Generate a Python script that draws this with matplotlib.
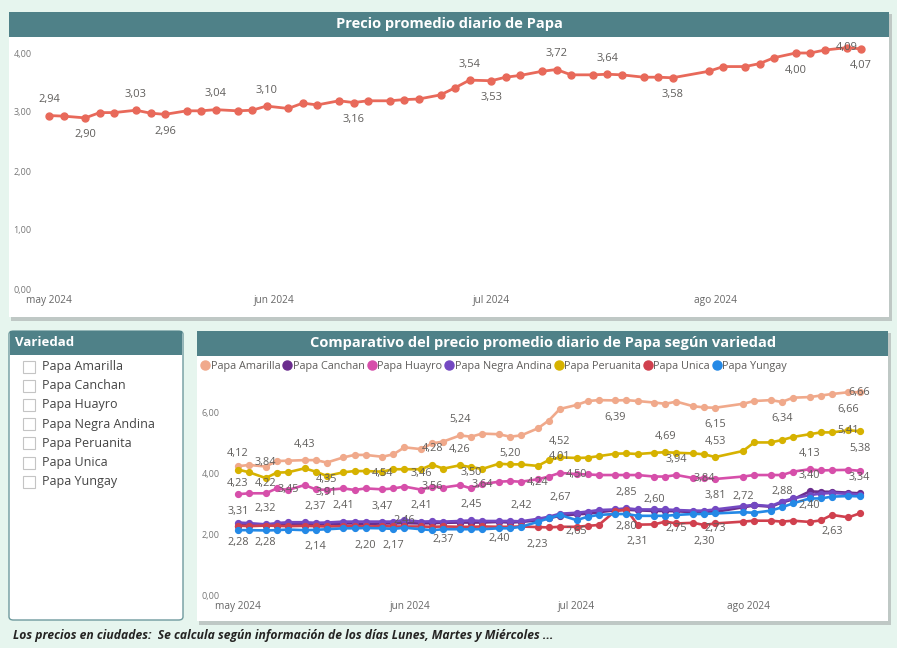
import datetime as dt
import matplotlib
matplotlib.use('Agg')
import matplotlib.pyplot as plt
import matplotlib.dates as mdates
from matplotlib.patches import Rectangle, FancyBboxPatch
from matplotlib.lines import Line2D

plt.rcParams['font.family'] = ['Open Sans', 'DejaVu Sans']

W, H = 897, 648

# fechas con precio (lun, mie, vie)
dias_may = [1, 3, 6, 8, 10, 13, 15, 17, 20, 22, 24, 27, 29, 31]
dias_jun = [3, 5, 7, 10, 12, 14, 17, 19, 21, 24, 26, 28]
dias_jul = [1, 3, 5, 8, 10, 12, 15, 17, 19, 22, 24, 26, 31]
dias_ago = [2, 5, 7, 9, 12, 14, 16, 19, 21]
fechas = ([dt.date(2024, 5, d) for d in dias_may] + [dt.date(2024, 6, d) for d in dias_jun]
          + [dt.date(2024, 7, d) for d in dias_jul] + [dt.date(2024, 8, d) for d in dias_ago])

meses = [dt.date(2024, 5, 1), dt.date(2024, 6, 1), dt.date(2024, 7, 1), dt.date(2024, 8, 1)]
meses_txt = ['may 2024', 'jun 2024', 'jul 2024', 'ago 2024']

# precio promedio diario de papa
papa = [2.94, 2.93, 2.90, 2.99, 2.99, 3.03, 2.98, 2.96, 3.02, 3.02, 3.04, 3.02, 3.03, 3.10,
        3.06, 3.15, 3.12, 3.19, 3.16, 3.19, 3.19, 3.21, 3.22, 3.29, 3.41, 3.54,
        3.53, 3.59, 3.62, 3.69, 3.72, 3.63, 3.63, 3.64, 3.63, 3.59, 3.59, 3.58, 3.69,
        3.77, 3.77, 3.82, 3.92, 4.00, 4.00, 4.05, 4.09, 4.07]

# por variedad
amarilla = [4.23, 4.27, 4.22, 4.40, 4.41, 4.43, 4.43, 4.35, 4.52, 4.60, 4.60, 4.54, 4.62, 4.85,
            4.79, 4.98, 5.04, 5.24, 5.20, 5.30, 5.28, 5.20, 5.24, 5.47, 5.73, 6.11,
            6.24, 6.37, 6.40, 6.39, 6.40, 6.37, 6.32, 6.28, 6.35, 6.20, 6.16, 6.15, 6.28,
            6.37, 6.40, 6.34, 6.48, 6.50, 6.55, 6.60, 6.66, 6.66]
canchan = [2.28, 2.30, 2.29, 2.30, 2.32, 2.33, 2.32, 2.32, 2.35, 2.35, 2.33, 2.35, 2.35, 2.36,
           2.35, 2.36, 2.37, 2.38, 2.38, 2.38, 2.40, 2.38, 2.40, 2.45, 2.52, 2.60,
           2.65, 2.67, 2.72, 2.78, 2.80, 2.78, 2.76, 2.76, 2.75, 2.72, 2.72, 2.73, 2.88,
           2.94, 2.90, 3.04, 3.14, 3.40, 3.39, 3.39, 3.36, 3.34]
huayro = [3.31, 3.34, 3.34, 3.50, 3.45, 3.61, 3.47, 3.45, 3.50, 3.45, 3.50, 3.47, 3.50, 3.56,
          3.46, 3.56, 3.53, 3.61, 3.50, 3.64, 3.72, 3.74, 3.72, 3.80, 3.89, 4.01,
          3.97, 3.96, 3.94, 3.94, 3.94, 3.94, 3.89, 3.89, 3.94, 3.84, 3.84, 3.81, 3.89,
          3.94, 3.94, 3.94, 4.05, 4.13, 4.09, 4.10, 4.11, 4.08]
negra_andina = [2.38, 2.36, 2.32, 2.36, 2.39, 2.39, 2.37, 2.38, 2.41, 2.41, 2.41, 2.41, 2.41, 2.46,
                2.41, 2.42, 2.41, 2.43, 2.45, 2.43, 2.43, 2.43, 2.42, 2.50, 2.57, 2.67,
                2.70, 2.74, 2.79, 2.81, 2.85, 2.81, 2.81, 2.81, 2.79, 2.77, 2.77, 2.81, 2.92,
                2.96, 2.92, 3.07, 3.17, 3.28, 3.33, 3.35, 3.32, 3.30]
peruanita = [4.12, 4.03, 3.84, 4.02, 4.03, 4.16, 4.05, 3.91, 4.03, 4.07, 4.07, 4.05, 4.13, 4.13,
             4.13, 4.28, 4.15, 4.26, 4.20, 4.14, 4.31, 4.29, 4.29, 4.24, 4.43, 4.52,
             4.50, 4.51, 4.56, 4.64, 4.65, 4.63, 4.67, 4.69, 4.67, 4.65, 4.62, 4.53, 4.73,
             5.01, 5.01, 5.09, 5.19, 5.28, 5.34, 5.34, 5.41, 5.38]
unica = [2.28, 2.26, 2.28, 2.27, 2.26, 2.27, 2.26, 2.25, 2.26, 2.26, 2.25, 2.26, 2.25, 2.25,
         2.25, 2.24, 2.25, 2.24, 2.24, 2.25, 2.24, 2.24, 2.25, 2.23, 2.22, 2.24,
         2.24, 2.27, 2.30, 2.76, 2.80, 2.31, 2.32, 2.41, 2.35, 2.37, 2.30, 2.35, 2.41,
         2.44, 2.44, 2.41, 2.44, 2.40, 2.45, 2.63, 2.55, 2.68]
yungay = [2.13, 2.13, 2.12, 2.13, 2.15, 2.13, 2.14, 2.16, 2.19, 2.19, 2.20, 2.19, 2.17, 2.21,
          2.16, 2.13, 2.16, 2.16, 2.16, 2.16, 2.19, 2.19, 2.24, 2.40, 2.52, 2.63,
          2.46, 2.57, 2.63, 2.66, 2.66, 2.60, 2.60, 2.60, 2.63, 2.66, 2.66, 2.68, 2.72,
          2.70, 2.77, 2.88, 3.01, 3.17, 3.17, 3.23, 3.25, 3.24]

variedades = ['Papa Amarilla', 'Papa Canchan', 'Papa Huayro', 'Papa Negra Andina',
              'Papa Peruanita', 'Papa Unica', 'Papa Yungay']
valores = [amarilla, canchan, huayro, negra_andina, peruanita, unica, yungay]
colores = ['#F0A98B', '#6B2D8E', '#D64FAA', '#7449C2', '#D6B200', '#D0404E', '#2489E6']

# etiquetas visibles: (mes, dia, posicion)  a = arriba, b = abajo, c = centro
etiq_papa = [(5, 1, 'a'), (5, 6, 'b'), (5, 13, 'a'), (5, 17, 'b'), (5, 24, 'a'), (5, 31, 'a'),
             (6, 12, 'b'), (6, 28, 'a'), (7, 1, 'b'), (7, 10, 'a'), (7, 17, 'a'), (7, 26, 'b'),
             (8, 12, 'b'), (8, 19, 'c'), (8, 21, 'b')]
etiq_var = {
    'Papa Amarilla': [(5, 1, 'b'), (5, 6, 'b'), (5, 13, 'a'), (5, 17, 'b'), (5, 27, 'b'), (6, 10, 'a'),
                      (6, 19, 'b'), (7, 8, 'b'), (7, 26, 'b'), (8, 7, 'b'), (8, 19, 'b'), (8, 21, 'c')],
    'Papa Peruanita': [(5, 1, 'a'), (5, 6, 'a'), (5, 17, 'b'), (6, 5, 'a'), (6, 10, 'a'), (6, 24, 'b'),
                       (6, 28, 'a'), (7, 1, 'b'), (7, 17, 'a'), (7, 26, 'a'), (8, 19, 'c'), (8, 21, 'b')],
    'Papa Huayro': [(5, 1, 'b'), (5, 10, 'c'), (5, 27, 'b'), (6, 3, 'a'), (6, 5, 'c'), (6, 12, 'a'),
                    (6, 14, 'c'), (6, 28, 'a'), (7, 19, 'a'), (7, 24, 'c'), (7, 26, 'b'), (8, 12, 'a')],
    'Papa Negra Andina': [(5, 6, 'a'), (5, 15, 'a'), (5, 20, 'a'), (5, 31, 'c'), (6, 3, 'a'), (6, 12, 'a'),
                          (6, 21, 'a'), (6, 28, 'a'), (7, 10, 'a')],
    'Papa Canchan': [(5, 1, 'b'), (6, 7, 'b'), (6, 17, 'b'), (7, 1, 'b'), (7, 19, 'b'), (7, 26, 'b'),
                     (8, 12, 'a'), (8, 21, 'a')],
    'Papa Unica': [(5, 6, 'b'), (6, 24, 'b'), (7, 10, 'b'), (7, 12, 'b'), (7, 24, 'b'), (8, 12, 'a'),
                   (8, 16, 'b')],
    'Papa Yungay': [(5, 15, 'b'), (5, 24, 'b'), (5, 29, 'b'), (7, 15, 'a'), (7, 31, 'a'), (8, 7, 'a')],
}
desp = {'a': 16, 'b': -17, 'c': 0}

TEAL = '#4F8188'
FONDO = '#E6F5EE'
GRIS = '#605E5C'


def caja(x, y, w, h):
    return [x / W, 1 - (y + h) / H, w / W, h / H]


def rect(x, y, w, h, **kw):
    fig.add_artist(Rectangle((x / W, 1 - (y + h) / H), w / W, h / H,
                             transform=fig.transFigure, **kw))


def fmt(v):
    return f'{v:.2f}'.replace('.', ',')


fig = plt.figure(figsize=(W / 100, H / 100), dpi=100)
fig.patch.set_facecolor(FONDO)

# paneles con sombra
for (x, y, w, h) in [(9, 12, 880, 305), (197, 331, 691, 290)]:
    rect(x + 2, y + 2, w + 1, h + 2, facecolor='#BFC8C5', edgecolor='none', zorder=-3)
    rect(x, y, w, h, facecolor='white', edgecolor='none', zorder=-2)
    rect(x, y, w, 25, facecolor=TEAL, edgecolor='none', zorder=-1)

fig.text(449 / W, 1 - 24 / H, 'Precio promedio diario de Papa', color='white',
         fontsize=10.5, fontweight='bold', ha='center', va='center')
fig.text(543 / W, 1 - 343 / H, 'Comparativo del precio promedio diario de Papa según variedad',
         color='white', fontsize=10.5, fontweight='bold', ha='center', va='center')

# slicer de variedad
fig.add_artist(FancyBboxPatch((9 / W, 1 - 620 / H), 174 / W, 289 / H,
                              boxstyle='round,pad=0,rounding_size=0.005',
                              transform=fig.transFigure, facecolor='white',
                              edgecolor='#6F9A9E', lw=1, zorder=-2))
rect(10, 331, 172, 24, facecolor=TEAL, edgecolor='none', zorder=-1)
fig.text(15 / W, 1 - 343 / H, 'Variedad', color='white', fontsize=9.5,
         fontweight='bold', ha='left', va='center')
for i, nombre in enumerate(variedades):
    yc = 366.5 + i * 19.2
    rect(23, yc - 6, 12, 12, facecolor='white', edgecolor='#C4C4C4', lw=0.8, zorder=1)
    fig.text(42 / W, 1 - yc / H, nombre, color='#444444', fontsize=9, ha='left', va='center')

fig.text(13 / W, 1 - 636 / H,
         'Los precios en ciudades:  Se calcula según información de los días Lunes, Martes y Miércoles ...',
         color='#252423', fontsize=8.7, fontweight='bold', fontstyle='italic', ha='left', va='center')

d0 = mdates.date2num(dt.date(2024, 5, 1))

# grafico superior
ax1 = fig.add_axes(caja(40, 41, 835, 248))
ax1.set_facecolor('none')
ax1.plot(fechas, papa, color='#E8695A', lw=2.0, marker='o', ms=5, zorder=3)
ax1.set_xlim(d0 - (49 - 40) / 7.25, d0 + (875 - 49) / 7.25)
ax1.set_ylim(0, 248 / 59)
for m, d, p in etiq_papa:
    i = fechas.index(dt.date(2024, m, d))
    ax1.annotate(fmt(papa[i]), (mdates.date2num(fechas[i]), papa[i]), xytext=(0, desp[p]),
                 textcoords='offset pixels', ha='center', va='center', fontsize=8, color=GRIS)

# grafico por variedad
ax2 = fig.add_axes(caja(228, 385, 647, 210))
ax2.set_facecolor('none')
for nombre, vals, col in zip(variedades, valores, colores):
    ax2.plot(fechas, vals, color=col, lw=1.9, marker='o', ms=4.2, zorder=3)
for nombre, vals, col in zip(variedades, valores, colores):
    for m, d, p in etiq_var[nombre]:
        i = fechas.index(dt.date(2024, m, d))
        ax2.annotate(fmt(vals[i]), (mdates.date2num(fechas[i]), vals[i]), xytext=(0, desp[p]),
                     textcoords='offset pixels', ha='center', va='center', fontsize=7.8,
                     color=GRIS, zorder=4)
ax2.set_xlim(d0 - (238 - 228) / 5.55, d0 + (875 - 238) / 5.55)
ax2.set_ylim(0, 210 / 30.45)

for ax, yt in [(ax1, [0, 1, 2, 3, 4]), (ax2, [0, 2, 4, 6])]:
    ax.set_yticks(yt)
    ax.set_yticklabels([fmt(v) for v in yt])
    ax.set_xticks([mdates.date2num(m) for m in meses])
    ax.set_xticklabels(meses_txt)
    ax.tick_params(axis='y', length=0, pad=6, labelsize=6.5, labelcolor='#777777')
    ax.tick_params(axis='x', length=0, pad=4, labelsize=7.3, labelcolor='#666666')
    for s in ax.spines.values():
        s.set_visible(False)

# leyenda
manijas = [Line2D([], [], ls='none', marker='o', ms=6.5, color=c) for c in colores]
fig.legend(manijas, variedades, loc='upper left', bbox_to_anchor=(202 / W, 1 - 361 / H),
           ncol=7, frameon=False, fontsize=7.8, handlelength=0.6, handletextpad=0.2,
           columnspacing=0.35, borderaxespad=0, borderpad=0, labelcolor=GRIS)

fig.savefig('out.png', dpi=100, facecolor=FONDO)
